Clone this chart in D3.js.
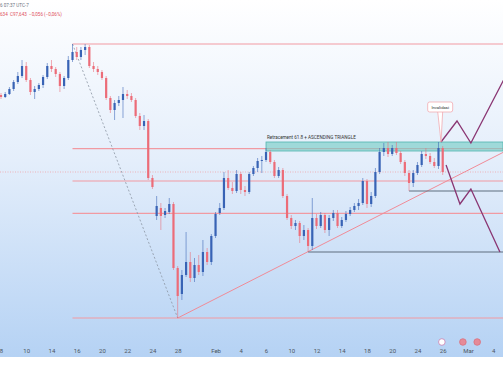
<!DOCTYPE html>
<html>
<head>
<meta charset="utf-8">
<script src="https://cdn.jsdelivr.net/npm/d3@7/dist/d3.min.js"></script>
<style>
body { margin: 0; background: #fff; }
.axis text { font-family: Roboto, "Liberation Sans", sans-serif; font-size: 6px; fill: #4d5560; }
.axis path, .axis line { display: none; }
</style>
</head>
<body>
<div id="chart"></div>
<script>
// 3 bars per trading day, index 0 = Jan 8
var opens = [98.41,98.39,98.42,98.47,98.54,98.60,98.70,98.56,98.44,98.47,98.51,98.59,98.70,98.67,98.62,98.50,98.58,98.76,98.84,98.79,
  98.86,98.89,98.70,98.67,98.64,98.58,98.38,98.26,98.33,98.36,98.42,98.40,98.36,98.20,98.10,98.15,97.58,97.20,97.28,97.21,
  97.24,97.32,96.68,96.42,96.61,96.74,96.58,96.71,96.64,96.84,96.74,97.00,97.23,97.28,97.58,97.48,97.45,97.62,97.46,97.44,
  97.62,97.68,97.75,97.76,97.84,97.74,97.60,97.66,97.40,97.18,97.10,97.13,97.00,97.06,96.90,97.18,97.10,97.21,97.06,97.18,
  97.23,97.10,97.16,97.22,97.26,97.30,97.33,97.55,97.32,97.40,97.64,97.84,97.88,97.82,97.88,97.83,97.74,97.63,97.53,97.63,
  97.71,97.82,97.80,97.74,97.70,97.88];
var highs = [98.43,98.44,98.49,98.56,98.64,98.76,98.74,98.58,98.50,98.53,98.61,98.73,98.76,98.69,98.64,98.60,98.80,98.92,98.89,98.89,
  98.92,98.91,98.74,98.70,98.66,98.60,98.40,98.36,98.40,98.49,98.46,98.43,98.38,98.23,98.21,98.17,97.61,97.40,97.33,97.28,
  97.38,97.34,96.70,96.66,97.04,96.84,96.78,96.81,96.96,96.88,97.02,97.24,97.33,97.64,97.66,97.54,97.66,97.64,97.50,97.64,
  97.70,97.78,97.80,97.88,97.86,97.76,97.69,97.68,97.42,97.21,97.16,97.15,97.11,97.08,97.38,97.22,97.24,97.23,97.21,97.26,
  97.26,97.19,97.25,97.29,97.33,97.37,97.58,97.57,97.44,97.68,97.88,97.93,97.94,97.91,97.94,97.85,97.76,97.66,97.66,97.74,
  97.85,97.88,97.83,97.78,97.94,97.90];
var lows = [98.37,98.38,98.41,98.45,98.52,98.58,98.54,98.41,98.37,98.45,98.48,98.57,98.64,98.59,98.44,98.47,98.56,98.74,98.76,98.76,
  98.81,98.68,98.64,98.61,98.56,98.36,98.23,98.16,98.30,98.18,98.37,98.34,98.18,98.06,98.06,97.56,97.47,97.16,97.06,97.18,
  97.22,96.66,96.18,96.36,96.59,96.54,96.54,96.61,96.60,96.71,96.71,96.98,97.21,97.26,97.46,97.42,97.43,97.42,97.40,97.42,
  97.60,97.64,97.63,97.74,97.72,97.58,97.58,97.38,97.16,97.07,97.06,96.93,96.96,96.84,96.86,97.07,97.08,97.03,97.00,97.15,
  97.08,97.08,97.14,97.20,97.24,97.26,97.31,97.28,97.29,97.38,97.62,97.80,97.79,97.80,97.81,97.72,97.60,97.45,97.49,97.61,
  97.69,97.77,97.72,97.68,97.67,97.61];
var closes = [98.39,98.42,98.47,98.54,98.60,98.70,98.56,98.44,98.47,98.51,98.59,98.70,98.67,98.62,98.50,98.58,98.76,98.84,98.79,98.86,
  98.89,98.70,98.67,98.64,98.58,98.38,98.26,98.33,98.36,98.42,98.40,98.36,98.20,98.10,98.15,97.58,97.49,97.30,97.20,97.25,
  97.32,96.68,96.40,96.61,96.74,96.58,96.71,96.64,96.84,96.74,97.00,97.22,97.28,97.58,97.48,97.45,97.62,97.46,97.44,97.62,
  97.68,97.75,97.76,97.84,97.74,97.60,97.66,97.40,97.18,97.10,97.13,97.00,97.06,96.90,97.18,97.10,97.21,97.06,97.18,97.23,
  97.10,97.16,97.22,97.26,97.30,97.33,97.55,97.32,97.40,97.64,97.84,97.88,97.82,97.88,97.83,97.74,97.63,97.53,97.63,97.71,
  97.82,97.80,97.74,97.70,97.88,97.64];

var bars_per_day = 3;
var tick_days = [0, 2, 4, 6, 8, 10, 12, 14, 17, 19, 21, 23, 25, 27, 29, 31, 33, 35, 37, 39];
var tick_labels = ["8", "10", "14", "16", "20", "22", "24", "28", "Feb", "4", "6", "10", "12", "14", "18", "20", "24", "26", "Mar", "4"];

// fibonacci drawn from swing high bar to swing low bar
var fib_high_bar = 17, fib_low_bar = 42;
var fib_levels = [0, 0.382, 0.5, 0.618, 1];

var zone_from = 63, zone_top = 97.94, zone_bottom = 97.85;
var trend_x = [42, 120], trend_p = [96.18, 97.85];
var support_from = [73, 97], support_price = [96.84, 97.45];
var bull_x = [104.6, 108.4, 111.7, 122.2], bull_p = [97.94, 98.15, 97.93, 98.78];
var bear_x = [105.8, 109.1, 111.7, 118.6], bear_p = [97.71, 97.32, 97.47, 96.84];
var note_x = 104.4, note_p = 98.29, note_tip_x = 104.6, note_tip_p = 97.94;
var event_x = [104.8, 109.8, 113.2];

var width = 503, height = 378, plot_bottom = 357;

var svg = d3.select("#chart")
    .append("svg")
    .attr("width", width)
    .attr("height", height);

var defs = svg.append("defs");
var grad = defs.append("linearGradient")
    .attr("id", "bg")
    .attr("x1", 0).attr("y1", 0).attr("x2", 0).attr("y2", 1);
grad.append("stop").attr("offset", "0%").attr("stop-color", "#ffffff");
grad.append("stop").attr("offset", "45%").attr("stop-color", "#e4eefb");
grad.append("stop").attr("offset", "100%").attr("stop-color", "#b5d2f4");

svg.append("rect")
    .attr("width", width)
    .attr("height", plot_bottom)
    .attr("fill", "url(#bg)");

var x = d3.scaleLinear()
    .domain([0, 105])
    .range([1, 442.7]);

var y = d3.scaleLinear()
    .domain([95.81, 99.36])
    .range([355, 0]);

var bar_w = 2.2;
var up_color = "#3863b5", down_color = "#ec6c78";
var fib_color = "#f19aa2";

// fib levels
var fib_hi = highs[fib_high_bar], fib_lo = lows[fib_low_bar];
svg.append("g").selectAll("line")
    .data(fib_levels)
    .enter()
    .append("line")
    .attr("x1", x(fib_high_bar))
    .attr("x2", width)
    .attr("y1", function(d) { return y(fib_lo + d * (fib_hi - fib_lo)); })
    .attr("y2", function(d) { return y(fib_lo + d * (fib_hi - fib_lo)); })
    .attr("stroke", fib_color)
    .attr("stroke-width", 1.2);

// last price line
svg.append("line")
    .attr("x1", 0).attr("x2", width)
    .attr("y1", y(closes[closes.length - 1]))
    .attr("y2", y(closes[closes.length - 1]))
    .attr("stroke", "#f0a3aa")
    .attr("stroke-width", 0.8)
    .attr("stroke-dasharray", "1,1.5");

// fib diagonal
svg.append("line")
    .attr("x1", x(fib_high_bar)).attr("y1", y(fib_hi))
    .attr("x2", x(fib_low_bar)).attr("y2", y(fib_lo))
    .attr("stroke", "#8c96a3")
    .attr("stroke-width", 0.8)
    .attr("stroke-dasharray", "2,2");

// ascending trend line
svg.append("line")
    .attr("x1", x(trend_x[0])).attr("y1", y(trend_p[0]))
    .attr("x2", x(trend_x[1])).attr("y2", y(trend_p[1]))
    .attr("stroke", "#f08b97")
    .attr("stroke-width", 1);

// supports
svg.append("g").selectAll("line")
    .data(support_from)
    .enter()
    .append("line")
    .attr("x1", function(d) { return x(d); })
    .attr("x2", width)
    .attr("y1", function(d, i) { return y(support_price[i]); })
    .attr("y2", function(d, i) { return y(support_price[i]); })
    .attr("stroke", "#5f6f7e")
    .attr("stroke-width", 1.2);

// resistance zone
svg.append("rect")
    .attr("x", x(zone_from))
    .attr("y", y(zone_top))
    .attr("width", width - x(zone_from))
    .attr("height", y(zone_bottom) - y(zone_top))
    .attr("fill", "#72cbc4")
    .attr("fill-opacity", 0.62)
    .attr("stroke", "#52b5ae")
    .attr("stroke-width", 0.8);

svg.append("text")
    .attr("x", x(zone_from) + 1)
    .attr("y", y(zone_top) - 3)
    .attr("font-family", "Roboto, sans-serif")
    .attr("font-size", 4.6)
    .attr("fill", "#333")
    .text("Retracement 61.8 + ASCENDING TRIANGLE");

// candles
var idx = d3.range(closes.length);
var candles = svg.append("g").selectAll("g")
    .data(idx)
    .enter()
    .append("g");

candles.append("line")
    .attr("x1", function(i) { return x(i); })
    .attr("x2", function(i) { return x(i); })
    .attr("y1", function(i) { return y(highs[i]); })
    .attr("y2", function(i) { return y(lows[i]); })
    .attr("stroke", function(i) { return closes[i] >= opens[i] ? up_color : down_color; })
    .attr("stroke-opacity", 0.7)
    .attr("stroke-width", 0.8);

candles.append("rect")
    .attr("x", function(i) { return x(i) - bar_w / 2; })
    .attr("y", function(i) { return y(Math.max(opens[i], closes[i])); })
    .attr("width", bar_w)
    .attr("height", function(i) { return Math.max(1, Math.abs(y(opens[i]) - y(closes[i]))); })
    .attr("fill", function(i) { return closes[i] >= opens[i] ? up_color : down_color; });

// projections
var path_line = d3.line()
    .x(function(d) { return x(d[0]); })
    .y(function(d) { return y(d[1]); });

svg.append("path")
    .attr("d", path_line(d3.zip(bull_x, bull_p)))
    .attr("fill", "none")
    .attr("stroke", "#8a3673")
    .attr("stroke-width", 1.3);

svg.append("path")
    .attr("d", path_line(d3.zip(bear_x, bear_p)))
    .attr("fill", "none")
    .attr("stroke", "#8a3673")
    .attr("stroke-width", 1.3);

// callout
var nx = x(note_x), ny = y(note_p);
svg.append("path")
    .attr("d", "M" + (nx - 2.5) + "," + (ny + 4.5) + "L" + x(note_tip_x) + "," + y(note_tip_p) + "L" + (nx + 2.5) + "," + (ny + 4.5))
    .attr("fill", "#fff")
    .attr("stroke", "#f0a0a8")
    .attr("stroke-width", 0.7);
svg.append("rect")
    .attr("x", nx - 12.5)
    .attr("y", ny - 5)
    .attr("width", 25)
    .attr("height", 10)
    .attr("rx", 2)
    .attr("fill", "#fff")
    .attr("stroke", "#f0a0a8")
    .attr("stroke-width", 0.7);
svg.append("text")
    .attr("x", nx)
    .attr("y", ny + 1.5)
    .attr("text-anchor", "middle")
    .attr("font-family", "Roboto, sans-serif")
    .attr("font-size", 4.2)
    .attr("fill", "#333")
    .text("Invalidasi");

// event markers
svg.append("g").selectAll("circle")
    .data(event_x)
    .enter()
    .append("circle")
    .attr("cx", function(d) { return x(d); })
    .attr("cy", 342)
    .attr("r", 3.3)
    .attr("fill", function(d, i) { return i == 0 ? "#fff" : "#e58a98"; })
    .attr("stroke", function(d, i) { return i == 0 ? "#c97fb0" : "#d9717f"; })
    .attr("stroke-width", 0.8);

// time axis
var xAxis = d3.axisBottom(x)
    .tickValues(tick_days.map(function(d) { return d * bars_per_day; }))
    .tickFormat(function(d, i) { return tick_labels[i]; })
    .tickSize(0)
    .tickPadding(4);

svg.append("g")
    .attr("class", "axis")
    .attr("transform", "translate(0,345)")
    .call(xAxis);

// header
svg.append("text")
    .attr("x", 0).attr("y", 7)
    .attr("font-family", "Roboto, sans-serif")
    .attr("font-size", 4.6)
    .attr("fill", "#6b7280")
    .text("6 07:37 UTC-7");
svg.append("text")
    .attr("x", 0).attr("y", 16)
    .attr("font-family", "Roboto, sans-serif")
    .attr("font-size", 4.6)
    .attr("fill", "#e0505c")
    .attr("xml:space", "preserve")
    .text("634  C97,643  \u22120,056 (\u22120,06%)");
</script>
</body>
</html>
